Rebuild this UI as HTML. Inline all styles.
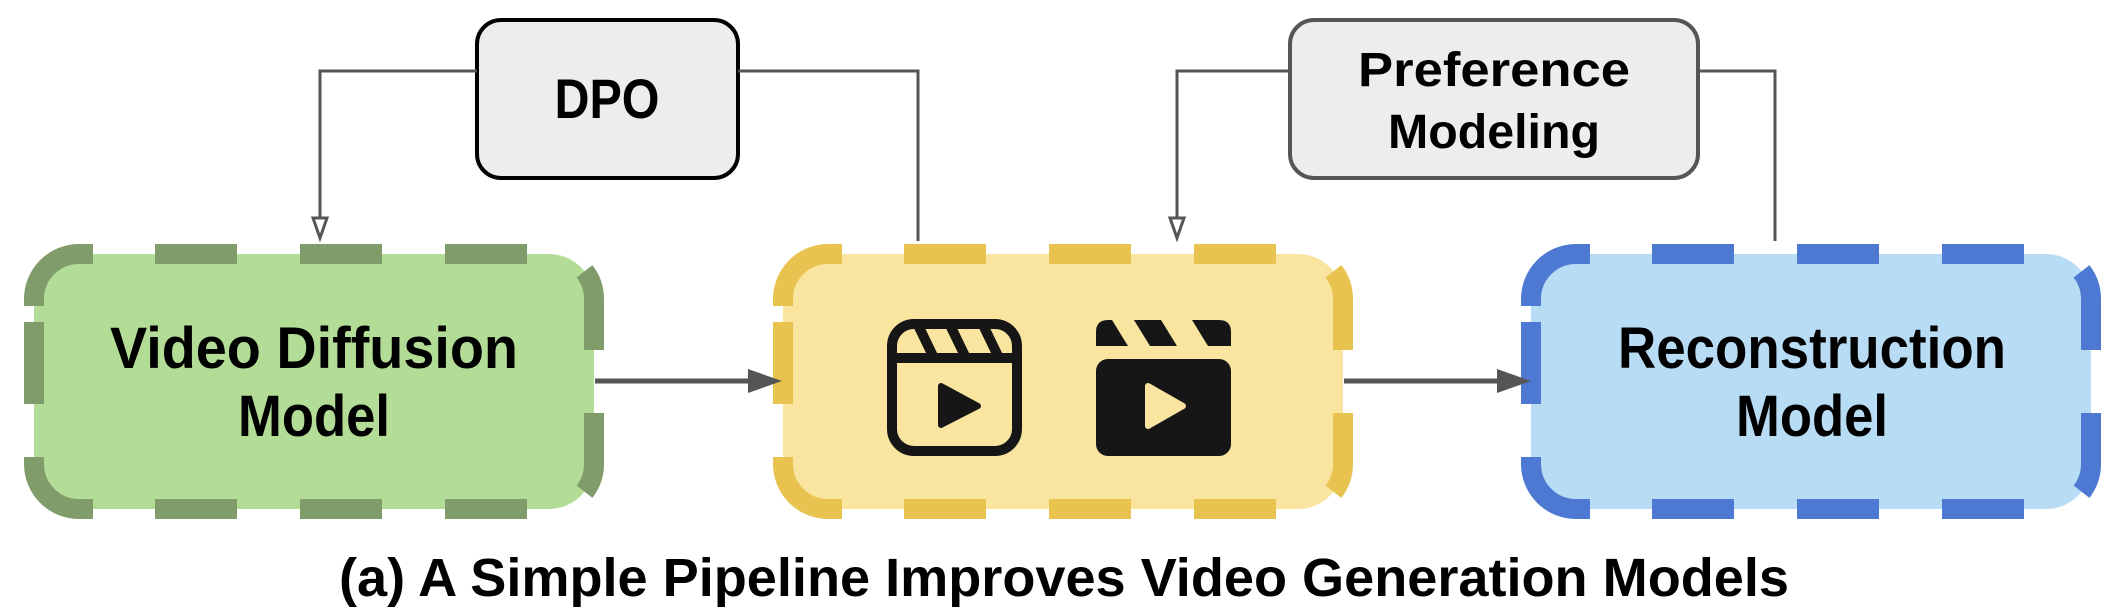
<!DOCTYPE html>
<html><head><meta charset="utf-8"><style>
html,body{margin:0;padding:0;background:#fff;}
svg{display:block;}
text{font-family:"Liberation Sans",sans-serif;font-weight:bold;fill:#000;}
</style></head><body>
<svg width="2126" height="616" viewBox="0 0 2126 616" xmlns="http://www.w3.org/2000/svg">
<defs>
<path id="dashes" fill="none" stroke-width="20" stroke-linecap="butt" d="M121,0 H203 M266,0 H348 M411,0 H493 M121,255 H203 M266,255 H348 M411,255 H493 M0,52 V45 A45,45 0 0 1 45,0 H59 M0,203 V210 A45,45 0 0 0 45,255 H59 M0,68 V150 M550.5,17.3 A45,45 0 0 1 560,45 V96 M560,159 V210 A45,45 0 0 1 550.5,237.7"/>
</defs>
<!-- main boxes -->
<rect x="34" y="254" width="560" height="255" rx="45" fill="#b3dd97"/>
<use href="#dashes" x="34" y="254" stroke="#7f9c6a"/>
<rect x="783" y="254" width="560" height="255" rx="45" fill="#fae5a0"/>
<use href="#dashes" x="783" y="254" stroke="#e8c350"/>
<rect x="1531" y="254" width="560" height="255" rx="45" fill="#b9dcf5"/>
<use href="#dashes" x="1531" y="254" stroke="#4d79d2"/>

<!-- top boxes -->
<rect x="477" y="20" width="261" height="158" rx="24" fill="#ededed" stroke="#000" stroke-width="4"/>
<text x="607" y="118" font-size="56" text-anchor="middle" textLength="105" lengthAdjust="spacingAndGlyphs">DPO</text>
<rect x="1290" y="20" width="408" height="158" rx="24" fill="#ededed" stroke="#555" stroke-width="4"/>
<text x="1494" y="86" font-size="48" text-anchor="middle" textLength="272" lengthAdjust="spacingAndGlyphs">Preference</text>
<text x="1494" y="148" font-size="48" text-anchor="middle" textLength="212" lengthAdjust="spacingAndGlyphs">Modeling</text>

<!-- connectors -->
<g fill="none" stroke="#555" stroke-width="3">
<polyline points="477,71 320,71 320,222"/>
<polyline points="738,71 918,71 918,241"/>
<polyline points="1290,71 1177,71 1177,222"/>
<polyline points="1698,71 1775,71 1775,241"/>
</g>
<g fill="#fff" stroke="#555" stroke-width="3">
<polygon points="313,218 327,218 320,238"/>
<polygon points="1170,218 1184,218 1177,238"/>
</g>
<g stroke="#555" stroke-width="5">
<line x1="595" y1="381" x2="752" y2="381"/>
<line x1="1344" y1="381" x2="1500" y2="381"/>
</g>
<g fill="#555">
<polygon points="748,369 782,381 748,393"/>
<polygon points="1497,369 1531,381 1497,393"/>
</g>

<!-- labels -->
<text x="314" y="368" font-size="58" text-anchor="middle" textLength="408" lengthAdjust="spacingAndGlyphs">Video Diffusion</text>
<text x="314" y="436" font-size="58" text-anchor="middle" textLength="152" lengthAdjust="spacingAndGlyphs">Model</text>
<text x="1812" y="368" font-size="58" text-anchor="middle" textLength="388" lengthAdjust="spacingAndGlyphs">Reconstruction</text>
<text x="1812" y="436" font-size="58" text-anchor="middle" textLength="152" lengthAdjust="spacingAndGlyphs">Model</text>

<!-- icon 1 outline -->
<g fill="none" stroke="#161616" stroke-width="10">
<rect x="892" y="324" width="125" height="127" rx="22"/>
<line x1="892" y1="358" x2="1017" y2="358"/>
<line x1="918" y1="325" x2="933" y2="356"/>
<line x1="950" y1="325" x2="965" y2="356"/>
<line x1="983" y1="325" x2="998" y2="356"/>
</g>
<polygon points="941,386 941,425 978,406" fill="#161616" stroke="#161616" stroke-width="6" stroke-linejoin="round"/>
<!-- icon 2 filled -->
<g fill="#161616">
<path d="M1108,320 H1112 L1128,346 H1096 V332 Q1096,320 1108,320 Z"/>
<polygon points="1134,320 1161,320 1177,346 1150,346"/>
<path d="M1192,320 H1219 Q1231,320 1231,332 V346 H1208 Z"/>
<rect x="1096" y="359" width="135" height="97" rx="12"/>
</g>
<polygon points="1148,386 1148,426 1183,406" fill="#fae5a0" stroke="#fae5a0" stroke-width="6" stroke-linejoin="round"/>

<!-- caption -->
<text x="1064" y="596" font-size="54" text-anchor="middle" textLength="1450" lengthAdjust="spacingAndGlyphs">(a) A Simple Pipeline Improves Video Generation Models</text>
</svg>
</body></html>
